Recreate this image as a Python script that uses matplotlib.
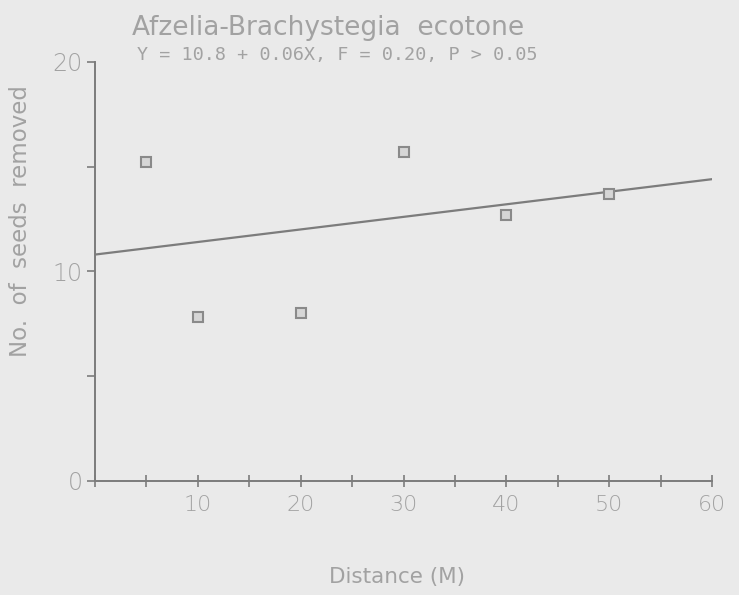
import numpy as np
import matplotlib.pyplot as plt

# seed removal vs distance from the forest edge
distance = [5, 10, 20, 30, 40, 50]
seeds_removed = [15.2, 7.8, 8.0, 15.7, 12.7, 13.7]

intercept = 10.8
slope = 0.06
f_value = 0.20

x_ticks = [0, 5, 10, 15, 20, 25, 30, 35, 40, 45, 50, 55, 60]
x_labels = ["", "", "10", "", "20", "", "30", "", "40", "", "50", "", "60"]
y_ticks = [0, 5, 10, 15, 20]
y_labels = ["0", "", "10", "", "20"]

paper = "#eaeaea"
ink = "#7c7c7c"
text_grey = "#a2a2a2"

fig = plt.figure(figsize=(7.39, 5.95), dpi=100, facecolor=paper)
ax = fig.add_axes([0.1286, 0.192, 0.835, 0.704])
ax.set_facecolor(paper)

xs = np.linspace(0, 60, 50)
ax.plot(xs, intercept + slope * xs, color=ink, lw=1.6)
ax.plot(distance, seeds_removed, ls="none", marker="s", ms=6.5,
        mfc="#d6d6d6", mec="#8a8a8a", mew=1.5)

ax.set_xlim(0, 60)
ax.set_ylim(0, 20)
for side in ["top", "right"]:
    ax.spines[side].set_visible(False)
for side in ["left", "bottom"]:
    ax.spines[side].set_color(ink)
    ax.spines[side].set_linewidth(1.4)

ax.set_xticks(x_ticks)
ax.set_xticklabels(x_labels)
ax.set_yticks(y_ticks)
ax.set_yticklabels(y_labels)
ax.tick_params(axis="x", direction="inout", length=8, width=1.2, color=ink,
               labelsize=16, labelcolor=text_grey, pad=6)
ax.tick_params(axis="y", direction="out", length=6, width=1.2, color=ink,
               labelsize=17, labelcolor=text_grey, pad=3)
for lbl in ax.get_xticklabels() + ax.get_yticklabels():
    lbl.set_fontfamily("DejaVu Sans")
    lbl.set_fontweight("light")

ax.set_xlabel("Distance (M)", fontsize=15.5, color=text_grey,
              fontfamily="DejaVu Sans")
ax.xaxis.set_label_coords(0.49, -0.205)
ax.set_ylabel("No.  of  seeds  removed", fontsize=16.5, color=text_grey,
              fontfamily="DejaVu Sans")
ax.yaxis.set_label_coords(-0.102, 0.62)

fig.text(0.444, 0.953, "Afzelia-Brachystegia  ecotone", ha="center",
         va="center", fontsize=19, color=text_grey, fontfamily="DejaVu Sans")
fig.text(0.456, 0.908,
         f"Y = {intercept} + {slope}X, F = {f_value:.2f}, P > 0.05",
         ha="center", va="center", fontsize=13.3, color=text_grey,
         fontfamily="DejaVu Sans Mono")

fig.savefig("out.png", dpi=100, facecolor=paper)
